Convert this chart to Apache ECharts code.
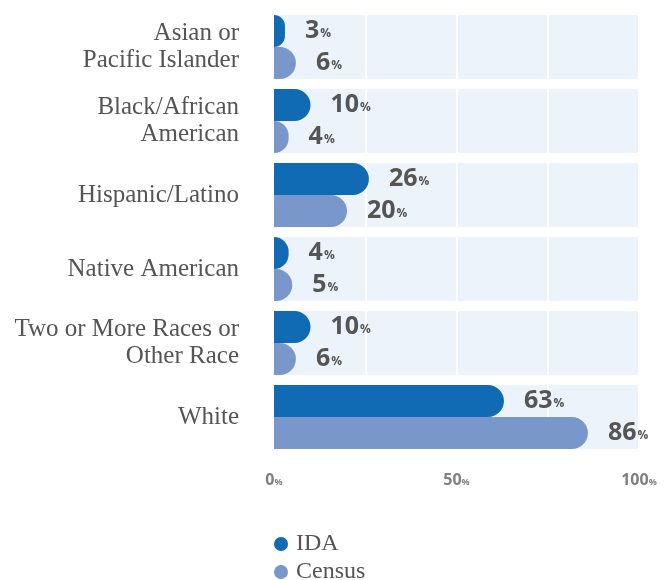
<!DOCTYPE html>
<html>
<head>
<meta charset="utf-8">
<script src="https://cdn.jsdelivr.net/npm/echarts@6/dist/echarts.min.js"></script>
<style>html,body{margin:0;padding:0;background:#fff}#c{width:664px;height:580px}</style>
</head>
<body>
<div id="c"></div>
<script>
const categories = ["Asian or\nPacific Islander", "Black/African\nAmerican", "Hispanic/Latino", "Native American", "Two or More Races or\nOther Race", "White"];
const idaValues = [3, 10, 26, 4, 10, 63];
const censusValues = [6, 4, 20, 5, 6, 86];
const trackMax = [100, 100, 100, 100, 100, 100];
const tickLabels = [0, 50, 100];

const chart = echarts.init(document.getElementById('c'));
const valLabel = {
  show: true,
  position: 'right',
  distance: 20,
  formatter: p => '{n|' + p.value + '}{p|%}',
  rich: {
    n: {fontFamily: 'Open Sans', fontWeight: 'bold', fontSize: 25, color: '#555555'},
    p: {fontFamily: 'Open Sans', fontWeight: 'bold', fontSize: 12, color: '#555555', padding: [6, 0, 0, 1]}
  }
};
const legendText = {fontFamily: 'Liberation Serif', fontSize: 24, color: '#555555', padding: [0, 0, 0, 3]};
chart.setOption({
  animation: false,
  grid: {left: 274, right: 25, top: 10, bottom: 126, containLabel: false},
  legend: [{
    orient: 'vertical', left: 269, top: 527,
    icon: 'circle', itemWidth: 14, itemHeight: 14,
    data: ['IDA'], textStyle: legendText
  }, {
    orient: 'vertical', left: 269, top: 555,
    icon: 'circle', itemWidth: 14, itemHeight: 14,
    data: ['Census'], textStyle: legendText
  }],
  xAxis: {
    type: 'value', min: 0, max: 100, interval: 25, z: 1,
    axisLine: {show: false}, axisTick: {show: false},
    splitLine: {show: true, lineStyle: {color: '#ffffff', width: 2}},
    axisLabel: {
      margin: 18,
      formatter: v => tickLabels.indexOf(v) >= 0 ? '{n|' + v + '}{p|%}' : '',
      rich: {
        n: {fontFamily: 'Open Sans', fontWeight: 'bold', fontSize: 16, color: '#808080'},
        p: {fontFamily: 'Open Sans', fontWeight: 'bold', fontSize: 9, color: '#808080', padding: [4, 0, 0, 0]}
      }
    }
  },
  yAxis: [{
    type: 'category', inverse: true, data: categories,
    axisLine: {show: false}, axisTick: {show: false}, splitLine: {show: false},
    axisLabel: {margin: 35, fontFamily: 'Liberation Serif', fontSize: 25, lineHeight: 27, color: '#555555', align: 'right'}
  }, {
    type: 'category', inverse: true, data: categories, show: false
  }],
  series: [{
    name: 'track', type: 'bar', yAxisIndex: 1, data: trackMax, barWidth: 64, z: 0,
    itemStyle: {color: '#edf3fa'}, silent: true, legendHoverLink: false
  }, {
    name: 'IDA', type: 'bar', yAxisIndex: 0, data: idaValues, barWidth: 32, barGap: '0%', z: 2,
    itemStyle: {color: '#106bb4', borderRadius: [0, 16, 16, 0]}, label: valLabel
  }, {
    name: 'Census', type: 'bar', yAxisIndex: 0, data: censusValues, barWidth: 32, barGap: '0%', z: 2,
    itemStyle: {color: '#7a97cc', borderRadius: [0, 16, 16, 0]}, label: valLabel
  }]
});
</script>
</body>
</html>
